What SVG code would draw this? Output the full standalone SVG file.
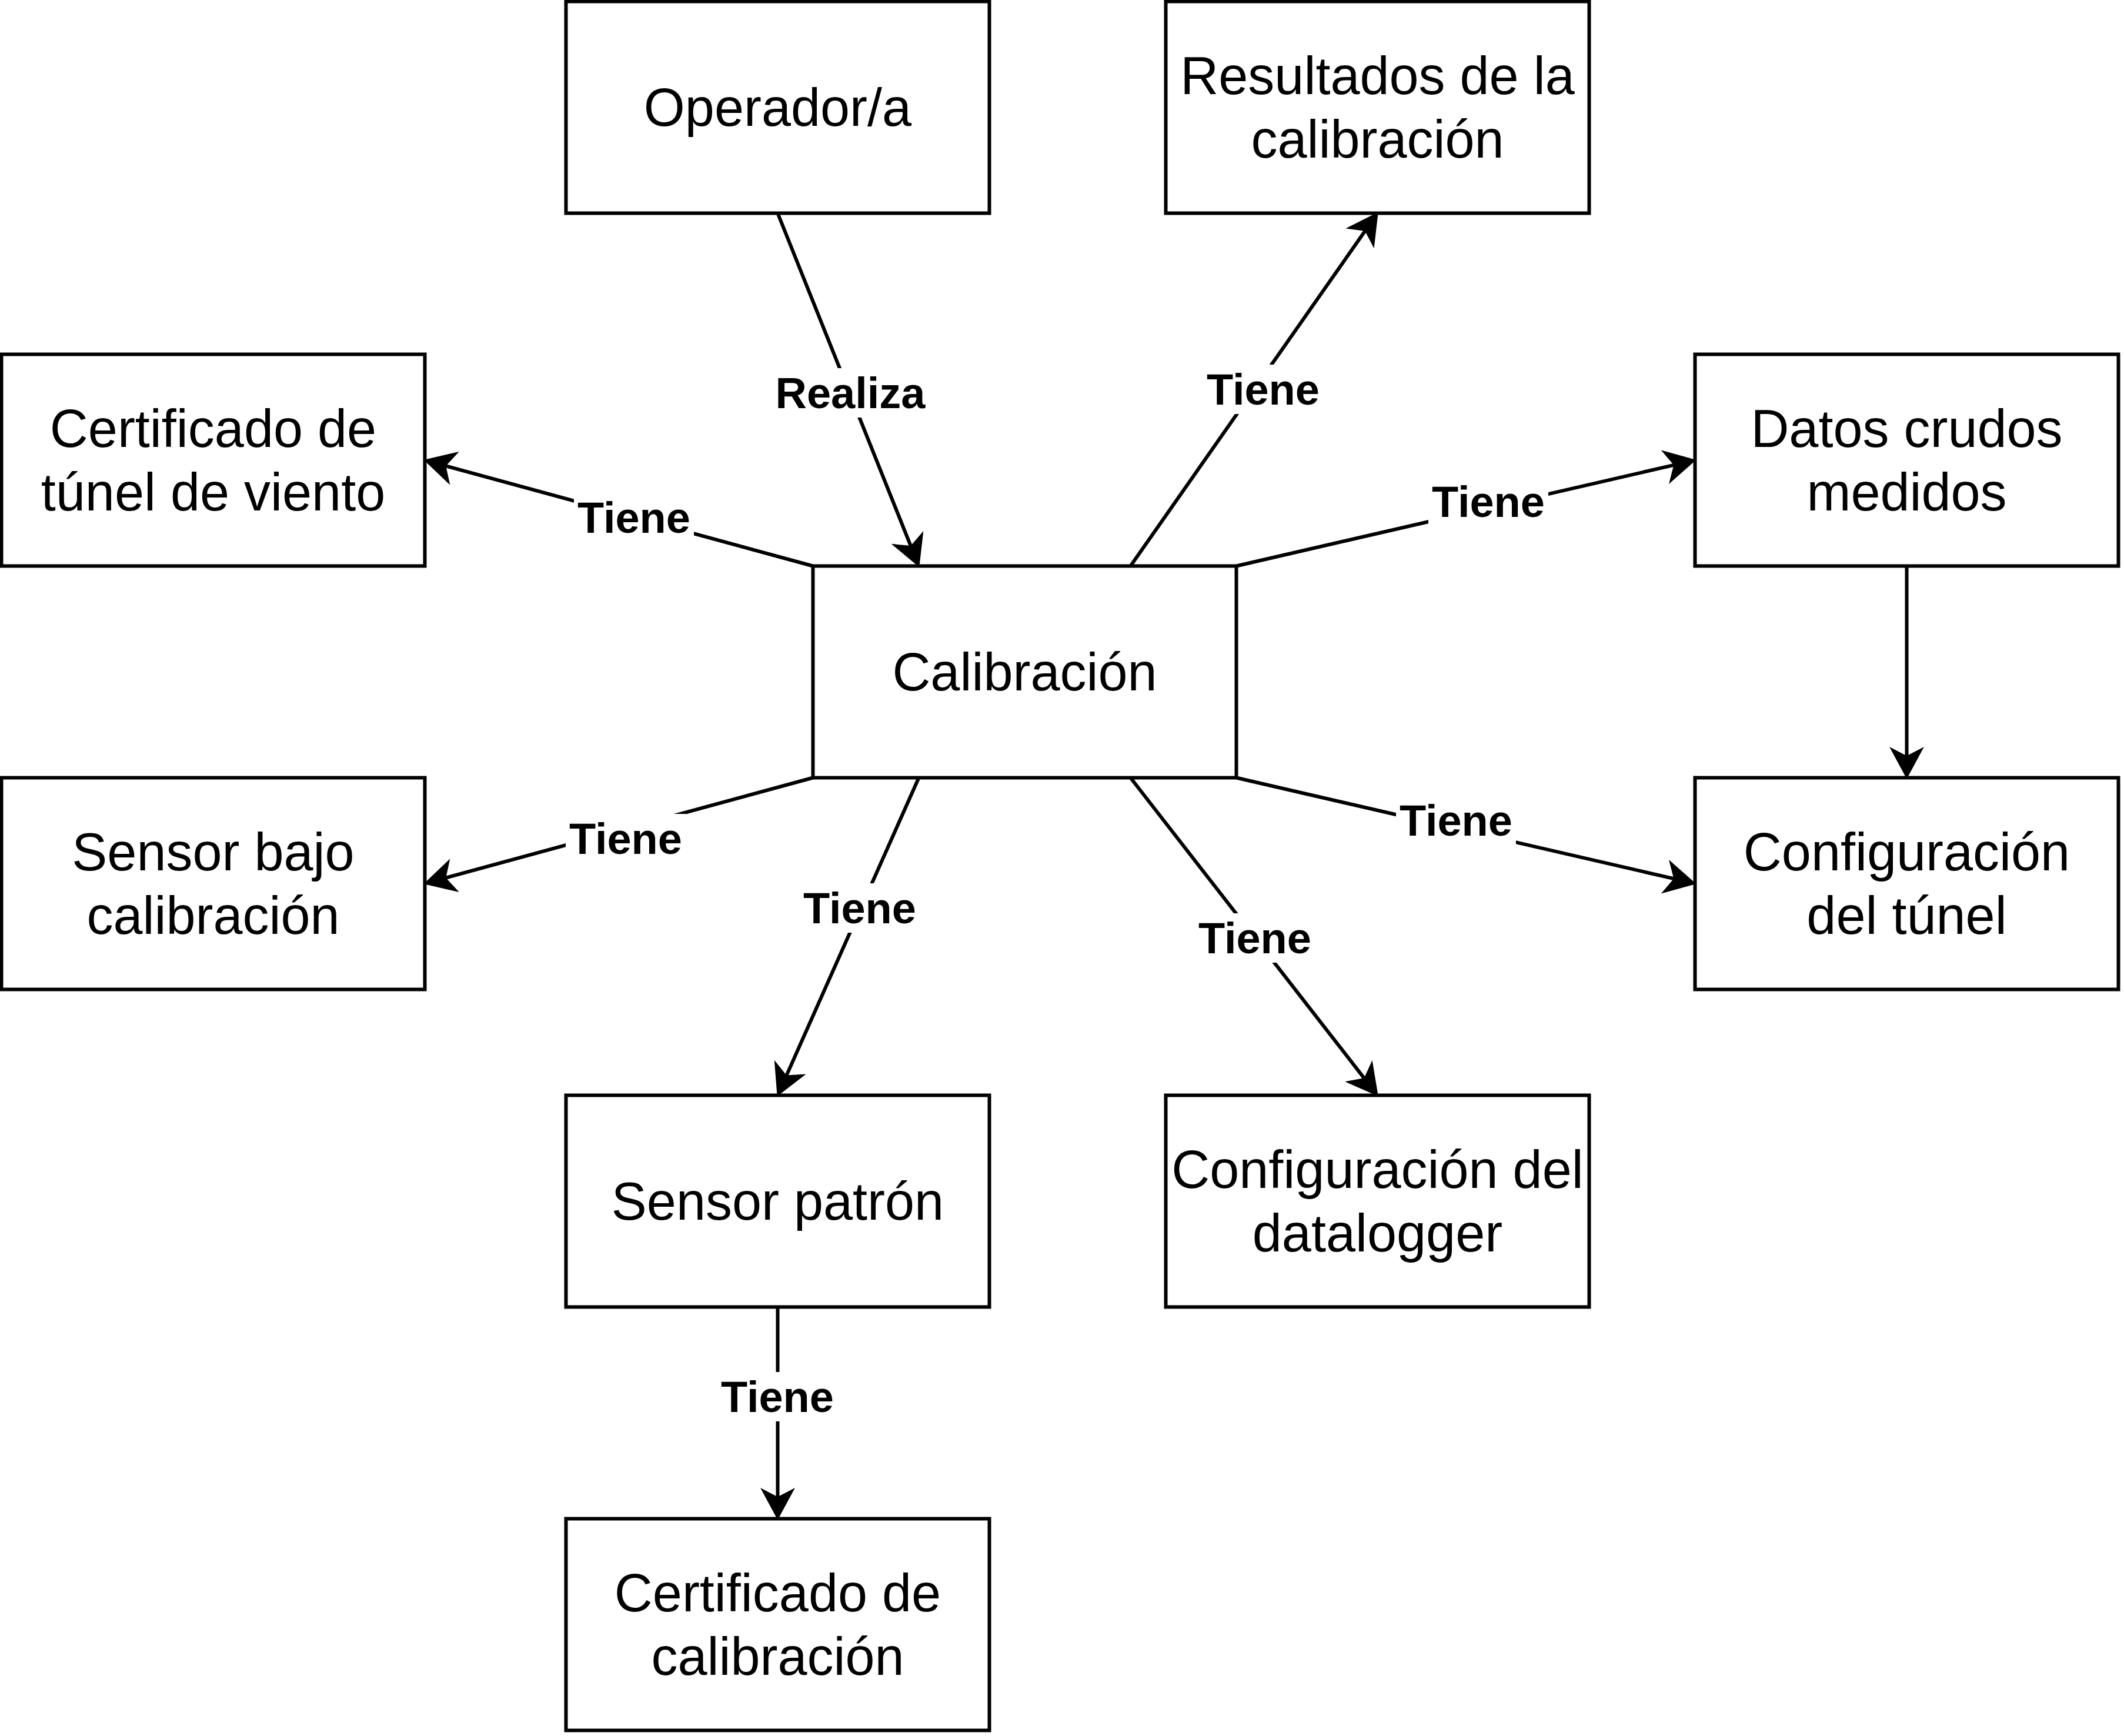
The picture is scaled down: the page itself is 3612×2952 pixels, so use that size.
<svg xmlns="http://www.w3.org/2000/svg" width="3612" height="2952" viewBox="0 0 3612 2952">
<style>
.box{fill:#fff;stroke:#000;stroke-width:6}
.nt{font-family:"Liberation Sans",Arial,sans-serif;font-size:90px;fill:#000;text-anchor:middle}
.edge{fill:none;stroke:#000;stroke-width:6}
.lbg{fill:#fff;stroke:none}
.lt{font-family:"Liberation Sans",Arial,sans-serif;font-size:74px;font-weight:bold;fill:#000;text-anchor:middle}
</style>
<defs>
<marker id="arr" markerUnits="userSpaceOnUse" markerWidth="60" markerHeight="60" refX="0" refY="0" orient="auto" overflow="visible" viewBox="-20 -30 60 60">
<path d="M36,0 L-14,-27 L0,0 L-14,27 Z" fill="#000" stroke="#000" stroke-width="2" stroke-linejoin="miter"/>
</marker>
</defs>
<rect width="3612" height="2952" fill="#fff"/>
<g id="connectors">
<line class="edge" x1="1322.5" y1="362.5" x2="1549.1" y2="929.1" marker-end="url(#arr)"/>
<line class="edge" x1="1382.5" y1="962.5" x2="757.2" y2="792" marker-end="url(#arr)"/>
<line class="edge" x1="1922.5" y1="962.5" x2="2321.9" y2="392" marker-end="url(#arr)"/>
<line class="edge" x1="2102.5" y1="962.5" x2="2847.4" y2="790.6" marker-end="url(#arr)"/>
<line class="edge" x1="1382.5" y1="1322.5" x2="757.2" y2="1493" marker-end="url(#arr)"/>
<line class="edge" x1="1562.5" y1="1322.5" x2="1337.1" y2="1829.6" marker-end="url(#arr)"/>
<line class="edge" x1="1922.5" y1="1322.5" x2="2320.4" y2="1834.1" marker-end="url(#arr)"/>
<line class="edge" x1="2102.5" y1="1322.5" x2="2847.4" y2="1494.4" marker-end="url(#arr)"/>
<line class="edge" x1="3242.5" y1="962.5" x2="3242.5" y2="1286.5" marker-end="url(#arr)"/>
<line class="edge" x1="1322.5" y1="2222.5" x2="1322.5" y2="2546.5" marker-end="url(#arr)"/>
<g id="labels">
<rect class="lbg" x="1313" y="626" width="266" height="84"/><text class="lt" x="1446" y="694">Realiza</text>
<rect class="lbg" x="976" y="838" width="204" height="84"/><text class="lt" x="1078" y="906">Tiene</text>
<rect class="lbg" x="2046" y="620" width="204" height="84"/><text class="lt" x="2148" y="688">Tiene</text>
<rect class="lbg" x="2429" y="811" width="204" height="84"/><text class="lt" x="2531" y="879">Tiene</text>
<rect class="lbg" x="962" y="1384" width="204" height="84"/><text class="lt" x="1064" y="1452">Tiene</text>
<rect class="lbg" x="1360" y="1502" width="204" height="84"/><text class="lt" x="1462" y="1570">Tiene</text>
<rect class="lbg" x="2032" y="1553" width="204" height="84"/><text class="lt" x="2134" y="1621">Tiene</text>
<rect class="lbg" x="2374" y="1353" width="204" height="84"/><text class="lt" x="2476" y="1421">Tiene</text>
<rect class="lbg" x="1220" y="2333" width="204" height="84"/><text class="lt" x="1322" y="2401">Tiene</text>
</g>
</g>
<g id="operador"><rect class="box" x="962.5" y="2.5" width="720" height="360"/><text class="nt" x="1322.5" y="213.7">Operador/a</text></g>
<g id="resultados"><rect class="box" x="1982.5" y="2.5" width="720" height="360"/><text class="nt" x="2342.5" y="159.7">Resultados de la</text><text class="nt" x="2342.5" y="267.7">calibración</text></g>
<g id="cert-tunel"><rect class="box" x="2.5" y="602.5" width="720" height="360"/><text class="nt" x="362.5" y="759.7">Certificado de</text><text class="nt" x="362.5" y="867.7">túnel de viento</text></g>
<g id="datos-crudos"><rect class="box" x="2882.5" y="602.5" width="720" height="360"/><text class="nt" x="3242.5" y="759.7">Datos crudos</text><text class="nt" x="3242.5" y="867.7">medidos</text></g>
<g id="calibracion"><rect class="box" x="1382.5" y="962.5" width="720" height="360"/><text class="nt" x="1742.5" y="1173.7">Calibración</text></g>
<g id="sensor-bajo"><rect class="box" x="2.5" y="1322.5" width="720" height="360"/><text class="nt" x="362.5" y="1479.7">Sensor bajo</text><text class="nt" x="362.5" y="1587.7">calibración</text></g>
<g id="config-tunel"><rect class="box" x="2882.5" y="1322.5" width="720" height="360"/><text class="nt" x="3242.5" y="1479.7">Configuración</text><text class="nt" x="3242.5" y="1587.7">del túnel</text></g>
<g id="sensor-patron"><rect class="box" x="962.5" y="1862.5" width="720" height="360"/><text class="nt" x="1322.5" y="2073.7">Sensor patrón</text></g>
<g id="config-datalogger"><rect class="box" x="1982.5" y="1862.5" width="720" height="360"/><text class="nt" x="2342.5" y="2019.7">Configuración del</text><text class="nt" x="2342.5" y="2127.7">datalogger</text></g>
<g id="cert-calibracion"><rect class="box" x="962.5" y="2582.5" width="720" height="360"/><text class="nt" x="1322.5" y="2739.7">Certificado de</text><text class="nt" x="1322.5" y="2847.7">calibración</text></g>
</svg>
